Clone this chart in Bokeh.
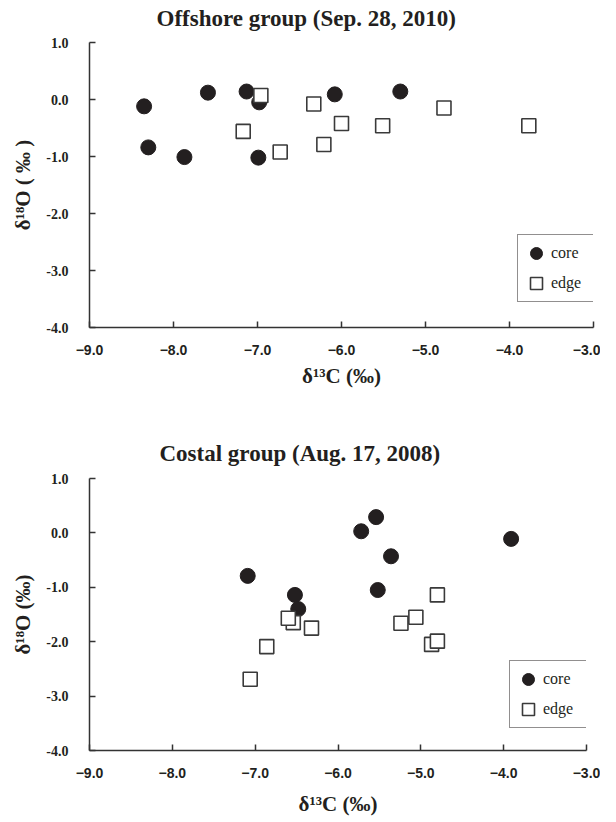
from bokeh.plotting import figure
from bokeh.layouts import column
from bokeh.models import (Title, Legend, LegendItem, CustomJSTickFormatter,
                          FixedTicker, Range1d)
from bokeh.embed import file_html
from bokeh.resources import INLINE

# ---- data: Offshore group (Sep. 28, 2010)
off_core_c13 = [-8.35, -7.59, -7.13, -6.98, -6.08, -5.30, -8.30, -7.87, -6.99]
off_core_o18 = [-0.12, 0.12, 0.14, -0.05, 0.09, 0.14, -0.84, -1.01, -1.02]
off_edge_c13 = [-6.96, -6.33, -4.78, -7.17, -6.00, -5.51, -3.77, -6.73, -6.21]
off_edge_o18 = [0.07, -0.08, -0.15, -0.56, -0.42, -0.46, -0.46, -0.92, -0.79]

# ---- data: Costal group (Aug. 17, 2008)
cos_core_c13 = [-5.54, -5.72, -5.36, -7.09, -5.52, -6.52, -6.48, -3.91]
cos_core_o18 = [0.29, 0.03, -0.43, -0.79, -1.05, -1.14, -1.40, -0.11]
cos_edge_c13 = [-6.54, -6.60, -6.32, -6.86, -7.06, -5.24, -5.06, -4.80, -4.87, -4.80]
cos_edge_o18 = [-1.65, -1.57, -1.75, -2.09, -2.69, -1.66, -1.55, -1.14, -2.05, -1.99]

x_ticks = [-9.0, -8.0, -7.0, -6.0, -5.0, -4.0, -3.0]
y_ticks = [-4.0, -3.0, -2.0, -1.0, 0.0, 1.0]

titles = ["Offshore group (Sep. 28, 2010)", "Costal group (Aug. 17, 2008)"]
x_label = "δ¹³C (‰)"
y_labels = ["δ¹⁸O ( ‰ )", "δ¹⁸O (‰)"]
legend_labels = ["core", "edge"]

SERIF = "Liberation Serif"
SANS = "Liberation Sans"
AX = "#333333"


def make(title, ylab, core_x, core_y, edge_x, edge_y, left, top, fh, bottom,
         title_off, gap, leg_loc, ylab_standoff, xlab_standoff):
    fw = 600 - left - 14
    p = figure(frame_width=fw, frame_height=fh,
               x_range=Range1d(-9, -3), y_range=Range1d(-4, 1),
               min_border_left=left, min_border_right=14,
               min_border_top=top, min_border_bottom=bottom,
               output_backend="svg", toolbar_location=None)
    p.outline_line_color = None
    p.xgrid.visible = False
    p.ygrid.visible = False
    p.background_fill_color = "white"

    t = Title(text=title, align="left", offset=title_off,
              text_font=SERIF, text_font_size="23px",
              text_font_style="bold", text_color="#231f20", standoff=0)
    # extra room between the title and the frame
    try:
        t.padding = dict(left=0, right=0, top=0, bottom=gap)
    except Exception:
        try:
            t.padding = (0, 0, 0, gap)
        except Exception:
            pass
    p.add_layout(t, "above")

    for ax in (p.xaxis[0], p.yaxis[0]):
        ax.axis_line_color = AX
        ax.axis_line_width = 1.5
        ax.major_tick_line_color = AX
        ax.major_tick_line_width = 1.5
        ax.major_tick_in = 6
        ax.major_tick_out = 0
        ax.minor_tick_line_color = None
        ax.major_label_text_color = "#231f20"
        ax.axis_label_text_color = "#231f20"
        ax.axis_label_text_font_style = "bold"
        ax.axis_label_text_font = SERIF
        ax.axis_label_text_font_size = "21px"

    p.xaxis.ticker = FixedTicker(ticks=x_ticks)
    p.yaxis.ticker = FixedTicker(ticks=y_ticks)
    p.xaxis.formatter = CustomJSTickFormatter(
        code="return tick.toFixed(1).replace('-', '\u2212');")
    p.yaxis.formatter = CustomJSTickFormatter(code="return tick.toFixed(1);")
    p.xaxis.major_label_text_font = SANS
    p.xaxis.major_label_text_font_style = "bold"
    p.xaxis.major_label_text_font_size = "14px"
    p.xaxis.major_label_standoff = 17
    p.yaxis.major_label_text_font = SERIF
    p.yaxis.major_label_text_font_style = "bold"
    p.yaxis.major_label_text_font_size = "14px"
    p.yaxis.major_label_standoff = 21
    p.xaxis.axis_label = x_label
    p.yaxis.axis_label = ylab
    p.xaxis.axis_label_standoff = xlab_standoff
    p.yaxis.axis_label_standoff = ylab_standoff

    r_core = p.scatter(x=core_x, y=core_y, marker="circle", size=15,
                       fill_color="#231f20", line_color="#231f20")
    r_edge = p.scatter(x=edge_x, y=edge_y, marker="square", size=14,
                       fill_color="white", line_color="#3a3a3a", line_width=1.6)

    leg = Legend(items=[LegendItem(label=legend_labels[0], renderers=[r_core]),
                        LegendItem(label=legend_labels[1], renderers=[r_edge])],
                 location=leg_loc, orientation="vertical",
                 glyph_width=30, glyph_height=30, label_height=30,
                 label_width=60, label_standoff=-9, spacing=0, padding=3,
                 margin=0, border_line_color="#231f20", border_line_width=1.2,
                 label_text_font=SERIF, label_text_font_size="16px",
                 label_text_color="#231f20", background_fill_alpha=1)
    p.add_layout(leg, "center")
    return p


p1 = make(titles[0], y_labels[0], off_core_c13, off_core_o18, off_edge_c13,
          off_edge_o18, left=82, top=42, fh=285, bottom=93, title_off=67,
          gap=12, leg_loc=(428, 25), ylab_standoff=8, xlab_standoff=6)
p2 = make(titles[1], y_labels[1], cos_core_c13, cos_core_o18, cos_edge_c13,
          cos_edge_o18, left=89, top=58, fh=272, bottom=64, title_off=70,
          gap=13, leg_loc=(420, 22), ylab_standoff=8, xlab_standoff=11)

layout = column(p1, p2, spacing=0)
open("out.html", "w").write(file_html(layout, INLINE))
